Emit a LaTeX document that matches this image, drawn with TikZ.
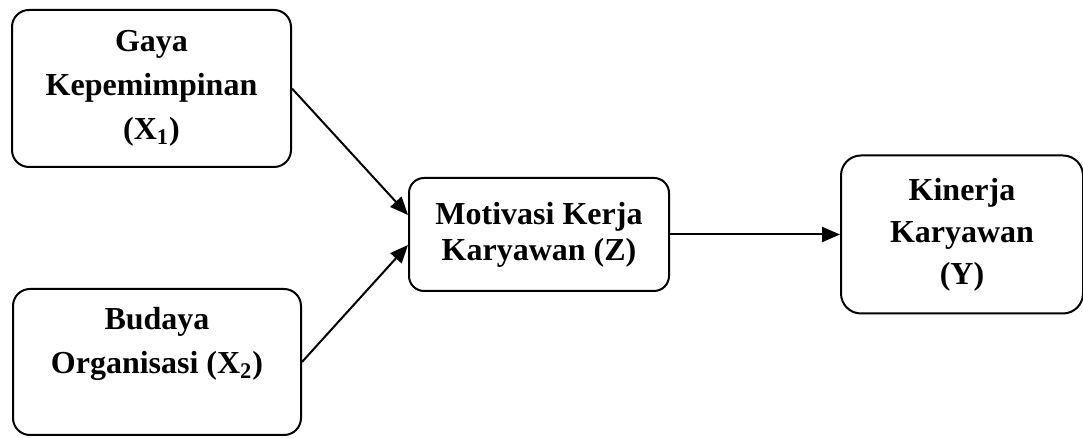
\documentclass[tikz,border=0pt]{standalone}
\usepackage{fontspec}
\setmainfont{Liberation Serif}
\usetikzlibrary{positioning,arrows.meta}

\begin{document}
\begin{tikzpicture}
  \useasboundingbox (0,0) rectangle (541.5pt,219pt);
  \begin{scope}[every node/.style={
      draw,
      rounded corners=8.5pt,
      line width=1pt,
      align=center,
      inner sep=0pt,
      font=\bfseries\fontsize{16}{22}\selectfont,
    }]
    \node[anchor=north west,minimum width=139.5pt,minimum height=78.5pt]
      (modelX1) at (5.5pt,214.5pt) {Gaya\\Kepemimpinan\\(X\textsubscript{1})};
    \node[anchor=south west,minimum width=144pt,minimum height=73pt]
      (modelX2) at (6pt,1pt) {Budaya\\Organisasi (X\textsubscript{2})\\\mbox{}};
    \node[minimum width=130pt,minimum height=56.5pt,rounded corners=7.5pt,
      font=\bfseries\fontsize{16}{18}\selectfont]
      (modelZ) at (269.5pt,101.75pt) {Motivasi Kerja\\Karyawan (Z)};
    \node[right=85pt of modelZ,minimum width=121pt,minimum height=79pt,
      rounded corners=10pt,font=\bfseries\fontsize{16}{21}\selectfont]
      (modelY) {Kinerja\\Karyawan\\(Y)};
  \end{scope}
  \begin{scope}[
    every path/.style={draw,line width=1pt,-{Triangle[length=9pt,width=7.5pt]}},
    ]
    \path (modelX1.east) -- ([yshift=9.75pt]modelZ.west);
    \path (modelX2.east) -- ([yshift=-5.25pt]modelZ.west);
    \path (modelZ) -- (modelY);
  \end{scope}
\end{tikzpicture}
\end{document}
